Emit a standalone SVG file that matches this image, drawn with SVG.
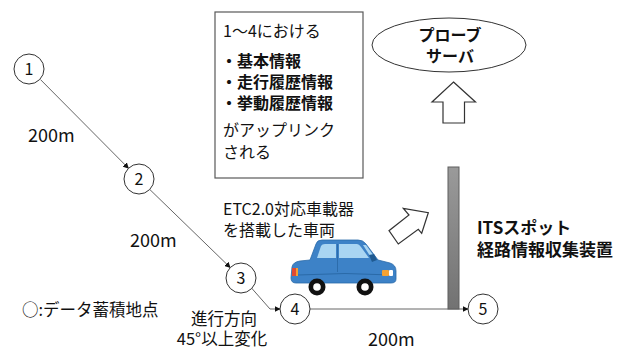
<svg xmlns="http://www.w3.org/2000/svg" width="619" height="350" viewBox="0 0 619 350">
  <defs>
    <marker id="arrow" viewBox="0 0 10 10" refX="9" refY="5" markerWidth="6" markerHeight="6" orient="auto" markerUnits="userSpaceOnUse">
      <path d="M0,0 L10,5 L0,10 Z" fill="#111"/>
    </marker>
    <linearGradient id="poleFill" x1="0" y1="0" x2="0" y2="1">
      <stop offset="0" stop-color="#9a9a9a"/>
      <stop offset="1" stop-color="#727272"/>
    </linearGradient>
    <style>
      text { font-family: "Noto Sans CJK JP", "Noto Sans", sans-serif; fill: #111; }
      .pt circle { fill: #fff; stroke: #333; stroke-width: 1; }
      .pt text { font-size: 16px; text-anchor: middle; }
      .conn { fill: none; stroke: #555; stroke-width: 0.9; }
      .lbl { font-size: 16px; }
      .dist { font-size: 18px; }
      .bold { font-weight: bold; }
      .block { fill: #fff; stroke: #333; stroke-width: 1.2; stroke-linejoin: miter; }
    </style>
  </defs>

  <!-- connectors between accumulation points -->
  <g id="connectors">
    <line class="conn" x1="40.5" y1="79.6" x2="128.5" y2="168.3" marker-end="url(#arrow)"/>
    <line class="conn" x1="149.8" y1="189.5" x2="230.2" y2="267.5" marker-end="url(#arrow)"/>
    <polyline class="conn" points="251.5,288 270,309 280,309" marker-end="url(#arrow)"/>
    <line class="conn" x1="310" y1="309" x2="468" y2="309" marker-end="url(#arrow)"/>
  </g>

  <!-- data accumulation points -->
  <g id="p1" class="pt"><circle cx="29" cy="69" r="15"/><text x="29" y="74.5">1</text></g>
  <g id="p2" class="pt"><circle cx="139" cy="179" r="15"/><text x="139" y="184.5">2</text></g>
  <g id="p3" class="pt"><circle cx="241" cy="278" r="15"/><text x="241" y="283.5">3</text></g>
  <g id="p4" class="pt"><circle cx="295" cy="309" r="15"/><text x="295" y="314.5">4</text></g>
  <g id="p5" class="pt"><circle cx="483" cy="309" r="15"/><text x="483" y="314.5">5</text></g>

  <!-- distance labels -->
  <g id="distances">
    <text class="dist" x="28" y="142">200m</text>
    <text class="dist" x="130" y="247">200m</text>
    <text class="dist" x="368" y="346">200m</text>
  </g>

  <!-- uplink note -->
  <g id="note">
    <rect x="215" y="12" width="148" height="166" fill="#fff" stroke="#595959" stroke-width="1.2"/>
    <text class="lbl" x="223" y="37">1～4における</text>
    <text class="lbl bold" x="221" y="67">・基本情報</text>
    <text class="lbl bold" x="221" y="88">・走行履歴情報</text>
    <text class="lbl bold" x="221" y="109">・挙動履歴情報</text>
    <text class="lbl" x="223" y="136">がアップリンク</text>
    <text class="lbl" x="223" y="158">される</text>
  </g>

  <!-- probe server -->
  <g id="server">
    <ellipse cx="449" cy="45" rx="77" ry="27" fill="#fff" stroke="#333" stroke-width="1"/>
    <text class="lbl bold" x="450" y="41" text-anchor="middle">プローブ</text>
    <text class="lbl bold" x="450" y="62" text-anchor="middle">サーバ</text>
  </g>

  <!-- upload arrows -->
  <g id="uplink-arrow">
    <polygon class="block" points="453.5,82 475.5,102 464.5,102 464.5,123 443,123 443,102 432,102"/>
  </g>
  <g id="send-arrow">
    <polygon class="block" points="428.3,212.7 421.7,233.3 418.3,229.3 398.3,244 389,230.7 409,215 403.3,208.3"/>
  </g>

  <!-- vehicle caption -->
  <g id="vehicle-label">
    <text class="lbl" x="223" y="215">ETC2.0対応車載器</text>
    <text class="lbl" x="223" y="236">を搭載した車両</text>
  </g>

  <!-- car -->
  <g id="car">
    <path d="M296,283 Q291,283 291,278 L292,267 Q293,262 300,261 L310,260 L316,244 Q317,240 322,240 L358,240 Q363,240 366,244 L378,260 L390,263 Q396,265 396,271 L396,279 Q396,283 391,283 Z" fill="#3d82c7" stroke="#2a6aa8" stroke-width="0.8"/>
    <path d="M317,258 L321,246 Q322,244 325,244 L336,244 L336,258 Z" fill="#a9d5f2"/>
    <path d="M339,244 L357,244 Q359,244 361,247 L369,258 L339,258 Z" fill="#a9d5f2"/>
    <path d="M363,245 L366,245 L376,259 L372,259 Z" fill="#a9d5f2"/>
    <path d="M369,255 L374,254 L377,260 L372,262 Z" fill="#1f5a91"/>
    <line x1="337.5" y1="244" x2="337.5" y2="272" stroke="#2a6aa8" stroke-width="0.9"/>
    <path d="M298,275 Q345,272 392,275" fill="none" stroke="#2a6aa8" stroke-width="1"/>
    <rect x="292" y="268" width="4" height="8" fill="#e04a33"/>
    <rect x="296" y="268" width="2" height="8" fill="#f4a233"/>
    <rect x="382" y="270" width="7" height="6" rx="1" fill="#f4a233"/>
    <rect x="389" y="270" width="4" height="6" rx="1" fill="#ffffff"/>
    <circle cx="317" cy="287" r="8.5" fill="#111"/>
    <circle cx="317" cy="287" r="3.8" fill="#fff"/>
    <circle cx="365" cy="287" r="8.5" fill="#111"/>
    <circle cx="365" cy="287" r="3.8" fill="#fff"/>
  </g>

  <!-- ITS spot roadside unit -->
  <g id="its-spot">
    <rect x="448" y="167" width="11" height="142" fill="url(#poleFill)" stroke="#5e5e5e" stroke-width="1"/>
    <text class="bold" x="477" y="234" font-size="17">ITSスポット</text>
    <text class="bold" x="477" y="256" font-size="17">経路情報収集装置</text>
  </g>

  <!-- legend and turn note -->
  <g id="legend">
    <text x="22" y="316" font-size="16.5">○:データ蓄積地点</text>
  </g>
  <g id="turn-note">
    <text x="224" y="325" font-size="16.5" text-anchor="middle">進行方向</text>
    <text x="222" y="345" font-size="16.5" text-anchor="middle">45°以上変化</text>
  </g>
</svg>
